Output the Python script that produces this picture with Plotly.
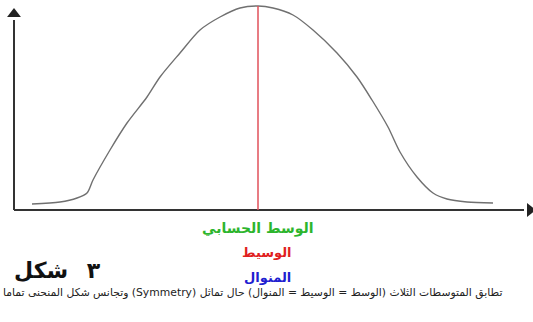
"""Symmetric curve: mean = median = mode"""
import plotly.graph_objects as go

# curve: distance along the x axis and height above it
curve_x = [18, 46, 63, 73, 79, 96, 113, 133, 146, 166, 186, 206, 226, 244,
           259, 279, 299, 323, 343, 358, 374, 386, 403, 419, 433, 453, 479]
curve_y = [6, 8, 12, 17, 30, 60, 87, 113, 133, 157, 180, 193, 202, 204,
           202, 195, 180, 157, 133, 110, 83, 58, 33, 17, 11, 8, 7]

peak_x = 244
x_axis_end = 510
y_axis_end = 190

centre_labels = ["الوسط الحسابي", "الوسيط", "المنوال"]
centre_colors = ["#2db52d", "#e02020", "#2020d0"]
label_offsets = [0, 9, 9]

figure_title = "شكل"
figure_number = "٣"
caption = ("تطابق المتوسطات الثلاث (الوسط = الوسيط = المنوال) حال تماثل "
           "(Symmetry) وتجانس شكل المنحنى تماما")

FONT = "DejaVu Sans"
RLE, LRM, PDF = "\u202b", "\u200e", "\u202c"

fig = go.Figure()

# axes with arrow heads
fig.add_trace(go.Scatter(x=[0, x_axis_end], y=[0, 0], mode="lines",
                         line=dict(color="#333333", width=2), hoverinfo="skip"))
fig.add_trace(go.Scatter(x=[0, 0], y=[0, y_axis_end], mode="lines",
                         line=dict(color="#333333", width=2), hoverinfo="skip"))
fig.add_trace(go.Scatter(x=[x_axis_end + 6], y=[0], mode="markers",
                         marker=dict(symbol="triangle-right", size=12, color="#222222"),
                         hoverinfo="skip"))
fig.add_trace(go.Scatter(x=[0], y=[y_axis_end + 6], mode="markers",
                         marker=dict(symbol="triangle-up", size=12, color="#222222"),
                         hoverinfo="skip"))

# the curve
fig.add_trace(go.Scatter(x=curve_x, y=curve_y, mode="lines",
                         line=dict(color="#707070", width=1.4, shape="spline", smoothing=0.8),
                         hoverinfo="skip"))

# the centre line
fig.add_trace(go.Scatter(x=[peak_x, peak_x], y=[0, max(curve_y)], mode="lines",
                         line=dict(color="#e0505a", width=1.5), hoverinfo="skip"))

annotations = []
label_sizes = [14, 13, 13]
for i, (label, color) in enumerate(zip(centre_labels, centre_colors)):
    annotations.append(dict(
        x=peak_x + label_offsets[i], y=-18 - 24.5 * i, text=f"<b>{label}</b>",
        showarrow=False, font=dict(family=FONT, size=label_sizes[i], color=color),
        xanchor="center", yanchor="middle"))
annotations.append(dict(
    x=-2, y=-60, text=f"<b>{figure_title}\u2002 {LRM}{figure_number}</b>", showarrow=False,
    font=dict(family=FONT, size=22, color="#111111"), xanchor="left", yanchor="middle"))
annotations.append(dict(
    x=238, y=-83, text=f"{RLE}{caption}{PDF}", showarrow=False,
    font=dict(family=FONT, size=10.8, color="#222222"), xanchor="center", yanchor="middle"))

fig.update_layout(
    width=533, height=322,
    margin=dict(l=0, r=0, t=0, b=0),
    paper_bgcolor="white", plot_bgcolor="white",
    showlegend=False,
    annotations=annotations,
    xaxis=dict(range=[-14, 519], visible=False, fixedrange=True),
    yaxis=dict(range=[-112, 210], visible=False, fixedrange=True),
)

fig.write_html("out.html", config={"displayModeBar": False},
               post_script="document.body.style.margin='0';")
